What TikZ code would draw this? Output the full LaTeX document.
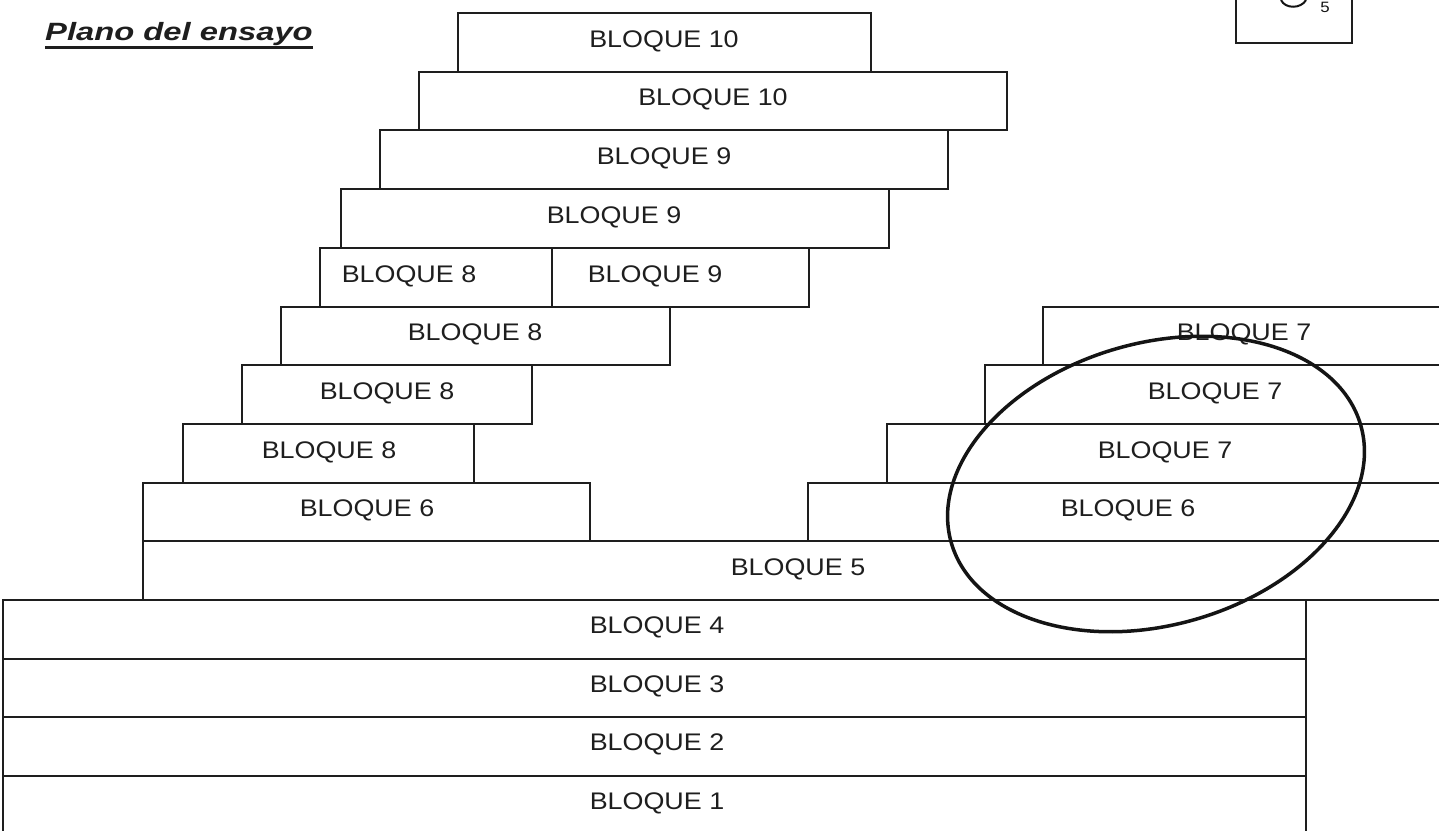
\documentclass[tikz,border=0pt]{standalone}
\usepackage{fontspec}
\setmainfont{Liberation Sans}[FakeStretch=1.12]
\newfontfamily\titlefont{Liberation Sans}[FakeStretch=1.31]
\usetikzlibrary{calc}
\definecolor{ink}{HTML}{1E1E1E}
\definecolor{pen}{HTML}{141414}

\begin{document}
\begin{tikzpicture}[x=1pt, y=-1pt,
    bloque/.style={draw=ink, line width=1.5pt},
    rotulo/.style={font=\fontsize{24}{24}\selectfont, text=ink, inner sep=0pt, yshift=1.5pt}]
      \useasboundingbox (0,0) rectangle (1439,830);
      \clip (0,0) rectangle (1439,830);
      % titulo
      \node[font=\titlefont\bfseries\itshape\fontsize{25}{25}\selectfont, text=ink, inner sep=0pt, anchor=base west] (titulo) at (45,40) {Plano del ensayo};
      \draw[ink, line width=2.5pt] ($(titulo.base west)+(0,7.5)$) -- ($(titulo.base east)+(0,7.5)$);
      % recuadro de arriba a la derecha
      \draw[bloque] (1236,-5) rectangle (1352,43);
      \draw[pen, line width=2pt] (1281,0) .. controls (1285,9) and (1301,9) .. (1306,0);
      \node[font=\fontsize{15}{15}\selectfont, text=pen, inner sep=0pt, anchor=base] (marca) at (1325,12) {5};
      % escalera izquierda
      \draw[bloque] (458,13) rectangle (871,72);
      \node[rotulo] (b10a) at (664,42.5) {BLOQUE 10};
      \draw[bloque] (419,72) rectangle (1007,130);
      \node[rotulo] (b10b) at (713,101) {BLOQUE 10};
      \draw[bloque] (380,130) rectangle (948,189);
      \node[rotulo] (b9a) at (664,159.5) {BLOQUE 9};
      \draw[bloque] (341,189) rectangle (889,248);
      \node[rotulo] (b9b) at (614,218.5) {BLOQUE 9};
      \draw[bloque] (320,248) rectangle (552,307);
      \node[rotulo] (b8a) at (409,277.5) {BLOQUE 8};
      \draw[bloque] (552,248) rectangle (809,307);
      \node[rotulo] (b9c) at (655,277.5) {BLOQUE 9};
      \draw[bloque] (281,307) rectangle (670,365);
      \node[rotulo] (b8b) at (475,336) {BLOQUE 8};
      \draw[bloque] (242,365) rectangle (532,424);
      \node[rotulo] (b8c) at (387,394.5) {BLOQUE 8};
      \draw[bloque] (183,424) rectangle (474,483);
      \node[rotulo] (b8d) at (329,453.5) {BLOQUE 8};
      \draw[bloque] (143,483) rectangle (590,541);
      \node[rotulo] (b6a) at (367,512) {BLOQUE 6};
      % escalera derecha
      \draw[bloque] (1043,307) rectangle (1460,365);
      \node[rotulo] (b7a) at (1244,336) {BLOQUE 7};
      \draw[bloque] (985,365) rectangle (1460,424);
      \node[rotulo] (b7b) at (1215,394.5) {BLOQUE 7};
      \draw[bloque] (887,424) rectangle (1460,483);
      \node[rotulo] (b7c) at (1165,453.5) {BLOQUE 7};
      \draw[bloque] (808,483) rectangle (1460,541);
      \node[rotulo] (b6b) at (1128,512) {BLOQUE 6};
      % base
      \draw[bloque] (143,541) rectangle (1460,600);
      \node[rotulo] (b5) at (798,570.5) {BLOQUE 5};
      \foreach \y/\n in {600/4, 659/3, 717/2, 776/1} {
        \draw[bloque] (3,\y) rectangle (1306,\y+58.7);
        \node[rotulo] (b\n) at (657,\y+29.3) {BLOQUE \n};
      }
      % marca a mano
      \draw[pen, line width=3.5pt, rotate around={16:(1156,484)}] (1156,484) ellipse [x radius=213pt, y radius=141pt];
    \end{tikzpicture}
\end{document}
